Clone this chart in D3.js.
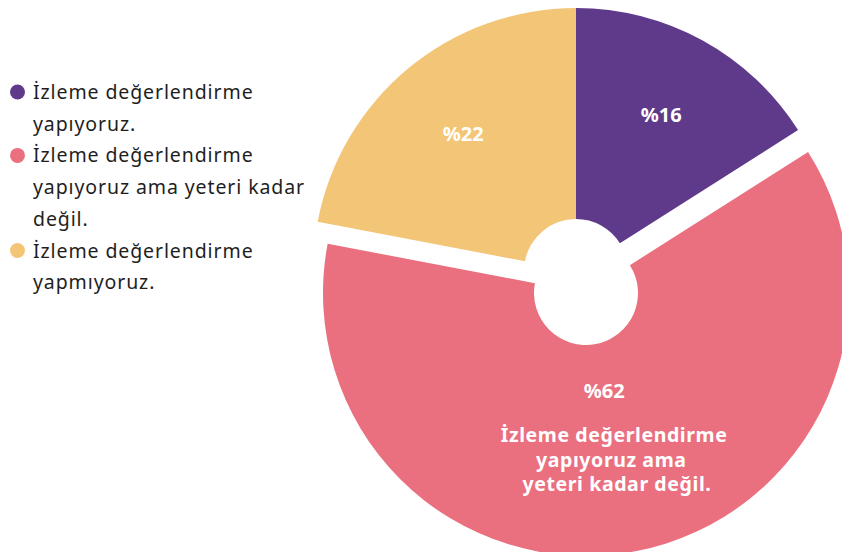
<!DOCTYPE html>
<html lang="tr">
<head>
<meta charset="utf-8">
<script src="https://cdn.jsdelivr.net/npm/d3@7"></script>
<style>
  html, body { margin: 0; padding: 0; background: #fff; }
  svg { display: block; }
  text { font-family: "Noto Sans", "Open Sans", sans-serif; }
</style>
</head>
<body>
<svg id="chart" width="842" height="552"></svg>
<script>
// Survey answers: share of respondents (%)
const categories = [
  "İzleme değerlendirme yapıyoruz.",
  "İzleme değerlendirme yapıyoruz ama yeteri kadar değil.",
  "İzleme değerlendirme yapmıyoruz."
];
const values = [16, 62, 22];
const colors = ["#5f3a8b", "#ea707f", "#f3c677"];
// Legend rows, already broken into lines
const legendLines = [
  ["İzleme değerlendirme", "yapıyoruz."],
  ["İzleme değerlendirme", "yapıyoruz ama yeteri kadar", "değil."],
  ["İzleme değerlendirme", "yapmıyoruz."]
];
// Extra caption printed inside the largest slice
const calloutLines = ["İzleme değerlendirme", "yapıyoruz ama ", " yeteri kadar değil."];
const calloutIndex = 1;

const svg = d3.select("#chart");

// ---- Pie layout ----
const cx = 576, cy = 271;
const innerR = 52, outerR = 263;
const explode = { dx: 10, dy: 22 };   // the highlighted slice is pulled out

const pie = d3.pie().sort(null).value(d => d).startAngle(0).endAngle(2 * Math.PI);
const arcs = pie(values);
const arc = d3.arc().innerRadius(innerR).outerRadius(outerR);
const labelArc = d3.arc().innerRadius(177).outerRadius(177);
const calloutArc = d3.arc().innerRadius(150).outerRadius(150);

const g = svg.append("g").attr("transform", `translate(${cx},${cy})`);

const slices = g.selectAll("g.slice")
  .data(arcs)
  .join("g")
  .attr("class", "slice")
  .attr("transform", (d, i) => i === calloutIndex ? `translate(${explode.dx},${explode.dy})` : null);

slices.append("path")
  .attr("d", arc)
  .attr("fill", (d, i) => colors[i]);

// Percentage labels for the smaller slices
slices.filter((d, i) => i !== calloutIndex)
  .append("text")
  .attr("transform", d => `translate(${labelArc.centroid(d)})`)
  .attr("text-anchor", "middle")
  .attr("dy", "0.3em")
  .attr("fill", "#fff")
  .attr("font-weight", 700)
  .attr("font-size", 20)
  .text(d => "%" + d.data);

// Percentage plus caption for the highlighted slice
const callout = slices.filter((d, i) => i === calloutIndex)
  .append("g")
  .attr("transform", d => `translate(${calloutArc.centroid(d)})`);

callout.append("text")
  .attr("text-anchor", "middle")
  .attr("x", -10)
  .attr("y", -42)
  .attr("fill", "#fff")
  .attr("font-weight", 700)
  .attr("font-size", 20)
  .text(d => "%" + d.data);

callout.append("text")
  .attr("text-anchor", "middle")
  .attr("fill", "#fff")
  .attr("font-weight", 700)
  .attr("font-size", 19.5)
  .attr("letter-spacing", 0.6)
  .style("white-space", "pre")
  .selectAll("tspan")
  .data(calloutLines)
  .join("tspan")
  .attr("x", 0)
  .attr("y", (d, i) => 2 + i * 24.5)
  .text(d => d);

// ---- Legend ----
const legendX = 17.5, textX = 33, firstBaseline = 99, lineStep = 31.7;
let lineNo = 0;
const legend = svg.append("g").attr("class", "legend");
legendLines.forEach((lines, i) => {
  const base = firstBaseline + lineNo * lineStep;
  legend.append("circle")
    .attr("cx", legendX)
    .attr("cy", base - 7)
    .attr("r", 7.5)
    .attr("fill", colors[i]);
  const t = legend.append("text")
    .attr("fill", "#1e1e1e")
    .attr("font-size", 19.5)
    .attr("letter-spacing", 0.9);
  lines.forEach((ln, j) => {
    t.append("tspan")
      .attr("x", textX)
      .attr("y", base + j * lineStep)
      .text(ln);
  });
  lineNo += lines.length;
});
</script>
</body>
</html>
